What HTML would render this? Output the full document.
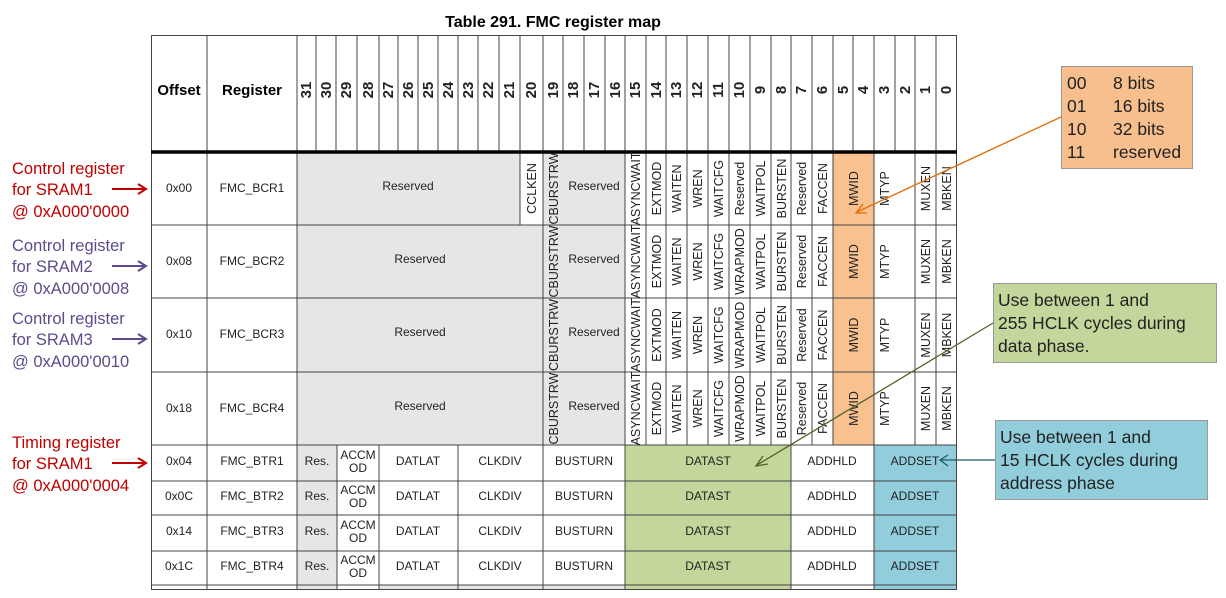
<!DOCTYPE html>
<html><head><meta charset="utf-8"><style>
html,body{margin:0;padding:0;background:#fff}
svg{display:block}
text{font-family:"Liberation Sans",Arial,sans-serif;fill:#222}
.h{font-size:15px;font-weight:bold;fill:#000}
.c{font-size:12px;text-anchor:middle}
.v{font-size:12.5px;text-anchor:middle}
.n{font-size:15px;font-weight:bold;text-anchor:middle;fill:#000}
.an{font-size:16.5px}
.bx{font-size:17.5px;fill:#000}
</style></head><body>
<svg width="1226" height="598" viewBox="0 0 1226 598" xmlns="http://www.w3.org/2000/svg">
<text x="553" y="27" class="n" style="font-size:16px">Table 291. FMC register map</text>

<g fill="#e6e6e6">
<rect x="297" y="152" width="223" height="73"/>
<rect x="297" y="225" width="246" height="220"/>
<rect x="543" y="152" width="82" height="293"/>
<rect x="297" y="445" width="40" height="145"/>
<rect x="379" y="585" width="246" height="5"/>
</g>
<rect x="520" y="152" width="23" height="73" fill="#fff"/>
<rect x="833" y="152" width="41" height="293" fill="#f9c18f"/>
<rect x="625" y="445" width="166" height="145" fill="#c3d69b"/>
<rect x="874" y="445" width="82" height="145" fill="#92cddc"/>

<g stroke="#444" stroke-width="1" fill="none">
<rect x="151.5" y="35.5" width="805" height="554"/>
<line x1="207" y1="35" x2="207" y2="590"/>
<line x1="297" y1="35" x2="297" y2="590"/>
<path d="M316 35V152M336 35V152M357 35V152M379 35V152M398 35V152M418 35V152M438 35V152M458 35V152M478 35V152M499 35V152M520 35V225M543 35V445M563 35V152M584 35V152M605 35V152M625 35V445M646 35V445M666 35V445M687 35V445M708 35V445M729 35V445M750 35V445M771 35V445M791 35V590M812 35V445M833 35V445M853 35V152M874 35V590M895 35V152M915 35V445M936 35V445"/>
<path d="M337 445V590M379 445V590M458 445V590M543 445V590M625 445V590"/>
<path d="M151 225H956M151 298H956M151 372H956M151 445H956M151 481H956M151 515H956M151 551H956M151 585H956"/>
</g>
<line x1="151" y1="152" x2="957" y2="152" stroke="#000" stroke-width="3.5"/>

<text x="179" y="95" class="n">Offset</text>
<text x="252" y="95" class="n">Register</text>
<g class="h">
<text transform="translate(311,90) rotate(-90)" text-anchor="middle">31</text>
<text transform="translate(331,90) rotate(-90)" text-anchor="middle">30</text>
<text transform="translate(351,90) rotate(-90)" text-anchor="middle">29</text>
<text transform="translate(373,90) rotate(-90)" text-anchor="middle">28</text>
<text transform="translate(393,90) rotate(-90)" text-anchor="middle">27</text>
<text transform="translate(413,90) rotate(-90)" text-anchor="middle">26</text>
<text transform="translate(433,90) rotate(-90)" text-anchor="middle">25</text>
<text transform="translate(453,90) rotate(-90)" text-anchor="middle">24</text>
<text transform="translate(473,90) rotate(-90)" text-anchor="middle">23</text>
<text transform="translate(493,90) rotate(-90)" text-anchor="middle">22</text>
<text transform="translate(514,90) rotate(-90)" text-anchor="middle">21</text>
<text transform="translate(536,90) rotate(-90)" text-anchor="middle">20</text>
<text transform="translate(558,90) rotate(-90)" text-anchor="middle">19</text>
<text transform="translate(578,90) rotate(-90)" text-anchor="middle">18</text>
<text transform="translate(599,90) rotate(-90)" text-anchor="middle">17</text>
<text transform="translate(620,90) rotate(-90)" text-anchor="middle">16</text>
<text transform="translate(640,90) rotate(-90)" text-anchor="middle">15</text>
<text transform="translate(661,90) rotate(-90)" text-anchor="middle">14</text>
<text transform="translate(681,90) rotate(-90)" text-anchor="middle">13</text>
<text transform="translate(702,90) rotate(-90)" text-anchor="middle">12</text>
<text transform="translate(723,90) rotate(-90)" text-anchor="middle">11</text>
<text transform="translate(744,90) rotate(-90)" text-anchor="middle">10</text>
<text transform="translate(765,90) rotate(-90)" text-anchor="middle">9</text>
<text transform="translate(786,90) rotate(-90)" text-anchor="middle">8</text>
<text transform="translate(806,90) rotate(-90)" text-anchor="middle">7</text>
<text transform="translate(827,90) rotate(-90)" text-anchor="middle">6</text>
<text transform="translate(848,90) rotate(-90)" text-anchor="middle">5</text>
<text transform="translate(868,90) rotate(-90)" text-anchor="middle">4</text>
<text transform="translate(889,90) rotate(-90)" text-anchor="middle">3</text>
<text transform="translate(910,90) rotate(-90)" text-anchor="middle">2</text>
<text transform="translate(930,90) rotate(-90)" text-anchor="middle">1</text>
<text transform="translate(951,90) rotate(-90)" text-anchor="middle">0</text>
</g>

<g class="c">
<text x="179" y="192">0x00</text><text x="252" y="192">FMC_BCR1</text>
<text x="179" y="265">0x08</text><text x="252" y="265">FMC_BCR2</text>
<text x="179" y="338">0x10</text><text x="252" y="338">FMC_BCR3</text>
<text x="179" y="412">0x18</text><text x="252" y="412">FMC_BCR4</text>
<text x="408" y="190">Reserved</text>
<text x="420" y="263">Reserved</text>
<text x="420" y="336">Reserved</text>
<text x="420" y="410">Reserved</text>
<text x="594" y="190">Reserved</text>
<text x="594" y="263">Reserved</text>
<text x="594" y="336">Reserved</text>
<text x="594" y="410">Reserved</text>
</g>
<g class="v">
<text transform="translate(536,188.5) rotate(-90)">CCLKEN</text>
<text transform="translate(558,188.5) rotate(-90)">CBURSTRW</text>
<text transform="translate(640,188.5) rotate(-90)">ASYNCWAIT</text>
<text transform="translate(661,188.5) rotate(-90)">EXTMOD</text>
<text transform="translate(681,188.5) rotate(-90)">WAITEN</text>
<text transform="translate(702,188.5) rotate(-90)">WREN</text>
<text transform="translate(723,188.5) rotate(-90)">WAITCFG</text>
<text transform="translate(744,188.5) rotate(-90)">Reserved</text>
<text transform="translate(765,188.5) rotate(-90)">WAITPOL</text>
<text transform="translate(786,188.5) rotate(-90)">BURSTEN</text>
<text transform="translate(806,188.5) rotate(-90)">Reserved</text>
<text transform="translate(827,188.5) rotate(-90)">FACCEN</text>
<text transform="translate(858,188.5) rotate(-90)">MWID</text>
<text transform="translate(889,188.5) rotate(-90)">MTYP</text>
<text transform="translate(930,188.5) rotate(-90)">MUXEN</text>
<text transform="translate(951,188.5) rotate(-90)">MBKEN</text>
<text transform="translate(558,261.5) rotate(-90)">CBURSTRW</text>
<text transform="translate(640,261.5) rotate(-90)">ASYNCWAIT</text>
<text transform="translate(661,261.5) rotate(-90)">EXTMOD</text>
<text transform="translate(681,261.5) rotate(-90)">WAITEN</text>
<text transform="translate(702,261.5) rotate(-90)">WREN</text>
<text transform="translate(723,261.5) rotate(-90)">WAITCFG</text>
<text transform="translate(744,261.5) rotate(-90)">WRAPMOD</text>
<text transform="translate(765,261.5) rotate(-90)">WAITPOL</text>
<text transform="translate(786,261.5) rotate(-90)">BURSTEN</text>
<text transform="translate(806,261.5) rotate(-90)">Reserved</text>
<text transform="translate(827,261.5) rotate(-90)">FACCEN</text>
<text transform="translate(858,261.5) rotate(-90)">MWID</text>
<text transform="translate(889,261.5) rotate(-90)">MTYP</text>
<text transform="translate(930,261.5) rotate(-90)">MUXEN</text>
<text transform="translate(951,261.5) rotate(-90)">MBKEN</text>
<text transform="translate(558,335) rotate(-90)">CBURSTRW</text>
<text transform="translate(640,335) rotate(-90)">ASYNCWAIT</text>
<text transform="translate(661,335) rotate(-90)">EXTMOD</text>
<text transform="translate(681,335) rotate(-90)">WAITEN</text>
<text transform="translate(702,335) rotate(-90)">WREN</text>
<text transform="translate(723,335) rotate(-90)">WAITCFG</text>
<text transform="translate(744,335) rotate(-90)">WRAPMOD</text>
<text transform="translate(765,335) rotate(-90)">WAITPOL</text>
<text transform="translate(786,335) rotate(-90)">BURSTEN</text>
<text transform="translate(806,335) rotate(-90)">Reserved</text>
<text transform="translate(827,335) rotate(-90)">FACCEN</text>
<text transform="translate(858,335) rotate(-90)">MWID</text>
<text transform="translate(889,335) rotate(-90)">MTYP</text>
<text transform="translate(930,335) rotate(-90)">MUXEN</text>
<text transform="translate(951,335) rotate(-90)">MBKEN</text>
<text transform="translate(558,408.5) rotate(-90)">CBURSTRW</text>
<text transform="translate(640,408.5) rotate(-90)">ASYNCWAIT</text>
<text transform="translate(661,408.5) rotate(-90)">EXTMOD</text>
<text transform="translate(681,408.5) rotate(-90)">WAITEN</text>
<text transform="translate(702,408.5) rotate(-90)">WREN</text>
<text transform="translate(723,408.5) rotate(-90)">WAITCFG</text>
<text transform="translate(744,408.5) rotate(-90)">WRAPMOD</text>
<text transform="translate(765,408.5) rotate(-90)">WAITPOL</text>
<text transform="translate(786,408.5) rotate(-90)">BURSTEN</text>
<text transform="translate(806,408.5) rotate(-90)">Reserved</text>
<text transform="translate(827,408.5) rotate(-90)">FACCEN</text>
<text transform="translate(858,408.5) rotate(-90)">MWID</text>
<text transform="translate(889,408.5) rotate(-90)">MTYP</text>
<text transform="translate(930,408.5) rotate(-90)">MUXEN</text>
<text transform="translate(951,408.5) rotate(-90)">MBKEN</text>
</g>

<g class="c">
<text x="179" y="465">0x04</text><text x="252" y="465">FMC_BTR1</text><text x="317" y="465">Res.</text><text x="358" y="459">ACCM</text><text x="358" y="472">OD</text><text x="418" y="465">DATLAT</text><text x="500" y="465">CLKDIV</text><text x="584" y="465">BUSTURN</text><text x="708" y="465">DATAST</text><text x="832" y="465">ADDHLD</text><text x="915" y="465">ADDSET</text>
<text x="179" y="500">0x0C</text><text x="252" y="500">FMC_BTR2</text><text x="317" y="500">Res.</text><text x="358" y="494">ACCM</text><text x="358" y="507">OD</text><text x="418" y="500">DATLAT</text><text x="500" y="500">CLKDIV</text><text x="584" y="500">BUSTURN</text><text x="708" y="500">DATAST</text><text x="832" y="500">ADDHLD</text><text x="915" y="500">ADDSET</text>
<text x="179" y="535">0x14</text><text x="252" y="535">FMC_BTR3</text><text x="317" y="535">Res.</text><text x="358" y="529">ACCM</text><text x="358" y="542">OD</text><text x="418" y="535">DATLAT</text><text x="500" y="535">CLKDIV</text><text x="584" y="535">BUSTURN</text><text x="708" y="535">DATAST</text><text x="832" y="535">ADDHLD</text><text x="915" y="535">ADDSET</text>
<text x="179" y="570">0x1C</text><text x="252" y="570">FMC_BTR4</text><text x="317" y="570">Res.</text><text x="358" y="564">ACCM</text><text x="358" y="577">OD</text><text x="418" y="570">DATLAT</text><text x="500" y="570">CLKDIV</text><text x="584" y="570">BUSTURN</text><text x="708" y="570">DATAST</text><text x="832" y="570">ADDHLD</text><text x="915" y="570">ADDSET</text>
</g>
<rect x="0" y="591" width="1226" height="7" fill="#fff"/>

<g class="an">
<text x="12" y="174" style="fill:#c00000">Control register</text>
<text x="12" y="195" style="fill:#c00000">for SRAM1</text>
<text x="12" y="217" style="fill:#c00000">@ 0xA000'0000</text>
<text x="12" y="251" style="fill:#5f4b8b">Control register</text>
<text x="12" y="272" style="fill:#5f4b8b">for SRAM2</text>
<text x="12" y="294" style="fill:#5f4b8b">@ 0xA000'0008</text>
<text x="12" y="324" style="fill:#5f4b8b">Control register</text>
<text x="12" y="345" style="fill:#5f4b8b">for SRAM3</text>
<text x="12" y="367" style="fill:#5f4b8b">@ 0xA000'0010</text>
<text x="12" y="448" style="fill:#c00000">Timing register</text>
<text x="12" y="469" style="fill:#c00000">for SRAM1</text>
<text x="12" y="491" style="fill:#c00000">@ 0xA000'0004</text>
</g>
<g fill="none" stroke-width="2">
<path d="M112 189H146M138 184L146 189L138 194" stroke="#c00000"/>
<path d="M112 266H146M138 261L146 266L138 271" stroke="#5f4b8b"/>
<path d="M112 339H146M138 334L146 339L138 344" stroke="#5f4b8b"/>
<path d="M112 463H146M138 458L146 463L138 468" stroke="#c00000"/>
</g>

<rect x="1061.5" y="66.5" width="131" height="102" fill="#f8bf8e" stroke="#999"/>
<g class="bx">
<text x="1067" y="89">00</text><text x="1113" y="89">8 bits</text>
<text x="1067" y="112">01</text><text x="1113" y="112">16 bits</text>
<text x="1067" y="135">10</text><text x="1113" y="135">32 bits</text>
<text x="1067" y="158">11</text><text x="1113" y="158">reserved</text>
</g>
<rect x="993.5" y="283.5" width="223" height="79" fill="#c3d69b" stroke="#999"/>
<g class="bx">
<text x="998" y="306">Use between 1 and</text>
<text x="998" y="329">255 HCLK cycles during</text>
<text x="998" y="352">data phase.</text>
</g>
<rect x="995.5" y="420.5" width="212" height="79" fill="#92cddc" stroke="#999"/>
<g class="bx">
<text x="1000" y="443">Use between 1 and</text>
<text x="1000" y="466">15 HCLK cycles during</text>
<text x="1000" y="489">address phase</text>
</g>

<g fill="none" stroke-width="1.3">
<path d="M1061 117L857 212M863 204L856 213L867 213" stroke="#e36c09"/>
<path d="M993 323L757 465M763 456L756 466L768 464" stroke="#4f6228"/>
<path d="M995 460L940 460M948 455L940 460L948 466" stroke="#215968"/>
</g>
</svg>
</body></html>
